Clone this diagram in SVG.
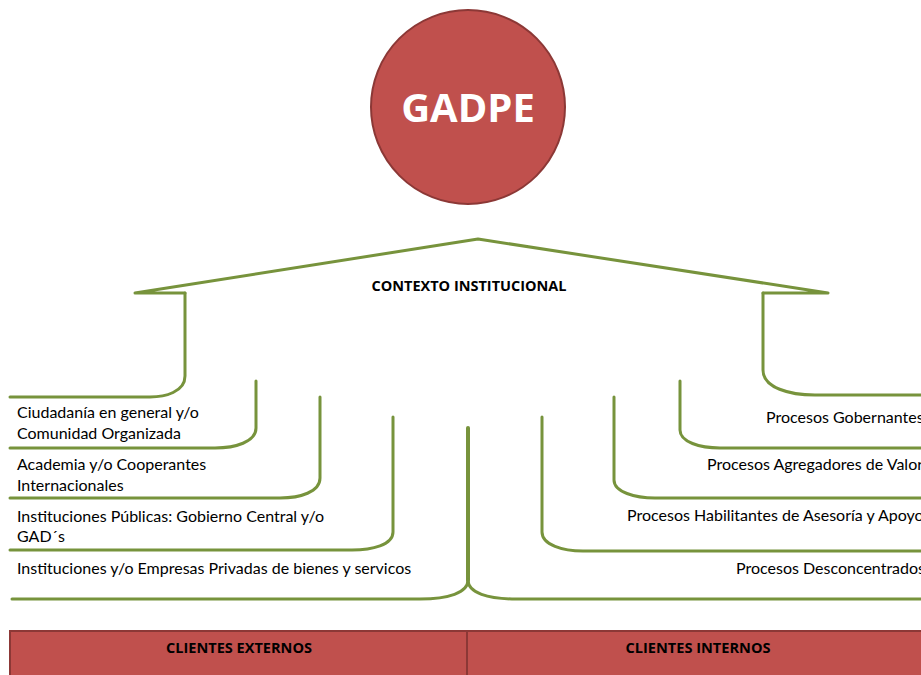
<svg xmlns="http://www.w3.org/2000/svg" width="921" height="675" viewBox="0 0 921 675">
<style>
.ln{fill:none;stroke:#77933C;stroke-width:3;stroke-linecap:round;stroke-linejoin:round}
.t{font-family:Lato,"Open Sans",sans-serif;font-size:16px;fill:#000}
.b{font-family:"Open Sans",Lato,sans-serif;font-weight:bold;font-size:14px;fill:#000}
.red{fill:#C0504D;stroke:#8C3836;stroke-width:2}
</style>
<rect width="921" height="675" fill="#fff"/>
<g id="gadpe">
<circle class="red" cx="468" cy="107" r="97"/>
<text x="468" y="122" text-anchor="middle" font-family="'Open Sans',Lato,sans-serif" font-weight="bold" font-size="40" fill="#fff">GADPE</text>
</g>
<g id="connectors">
<path class="ln" d="M185,293 L135,293 L478,239 L828,293 L763,293"/>
<path class="ln" d="M185,293 L185,376 C185,392 165,397 150,397 L10,397"/>
<path class="ln" d="M763,293 L763,370 C763,388 790,395 815,395 L921,395"/>
<path class="ln" d="M256,381 L256,428 C256,442 235,448 215,448 L10,448"/>
<path class="ln" d="M320,397 L320,478 C320,492 300,498 280,498 L10,498"/>
<path class="ln" d="M393,417 L393,532 C393,545 372,550 352,550 L10,550"/>
<path class="ln" d="M680,381 L680,430 C680,442 700,448 720,448 L921,448"/>
<path class="ln" d="M614,397 L614,480 C614,492 635,498 655,498 L921,498"/>
<path class="ln" d="M542,417 L542,532 C542,545 563,551 583,551 L921,551"/>
<path class="ln" style="stroke-width:4" d="M468,428 L468,580"/>
<path class="ln" d="M468,580 C468,593 448,599 420,599 L12,599"/>
<path class="ln" d="M468,580 C468,593 488,599 516,599 L921,599"/>
</g>
<g id="contexto">
<text class="b" x="469" y="291" text-anchor="middle" textLength="195" lengthAdjust="spacingAndGlyphs">CONTEXTO INSTITUCIONAL</text>
</g>
<g id="externos-labels">
<text class="t" x="17" y="418">Ciudadanía en general y/o</text>
<text class="t" x="17" y="439">Comunidad Organizada</text>
<text class="t" x="17" y="470">Academia y/o Cooperantes</text>
<text class="t" x="17" y="491">Internacionales</text>
<text class="t" x="17" y="522">Instituciones Públicas: Gobierno Central y/o</text>
<text class="t" x="17" y="542">GAD´s</text>
<text class="t" x="17" y="574">Instituciones y/o Empresas Privadas de bienes y servicos</text>
</g>
<g id="internos-labels">
<text class="t" x="766" y="423">Procesos Gobernantes</text>
<text class="t" x="707" y="470">Procesos Agregadores de Valor</text>
<text class="t" x="627" y="521">Procesos Habilitantes de Asesoría y Apoyo</text>
<text class="t" x="736" y="574">Procesos Desconcentrados</text>
</g>
<g id="clientes">
<rect class="red" x="10" y="631" width="930" height="60"/>
<line x1="467" y1="631" x2="467" y2="675" stroke="#8C3836" stroke-width="2"/>
<text class="b" x="239" y="653" text-anchor="middle" textLength="146" lengthAdjust="spacingAndGlyphs">CLIENTES EXTERNOS</text>
<text class="b" x="698" y="653" text-anchor="middle" textLength="145" lengthAdjust="spacingAndGlyphs">CLIENTES INTERNOS</text>
</g>
</svg>
